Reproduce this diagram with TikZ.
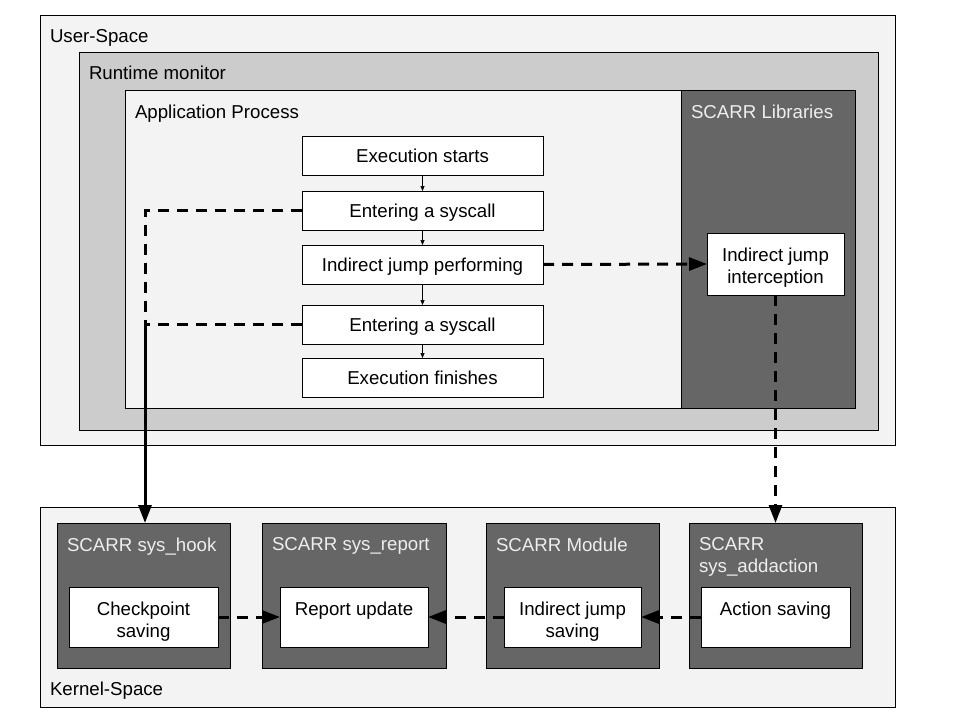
\documentclass[tikz,border=0pt]{standalone}
\usepackage{fontspec}
\setmainfont{Liberation Sans}
\usetikzlibrary{arrows.meta,calc}
\definecolor{lightbg}{HTML}{F3F3F3}
\definecolor{midbg}{HTML}{CCCCCC}
\definecolor{darkbg}{HTML}{666666}
\definecolor{lbl}{HTML}{EEEEEE}
\begin{document}
\begin{tikzpicture}[x=1pt,y=-1pt,
  every node/.style={inner sep=0pt, outer sep=0pt},
  font=\fontsize{18.67}{22}\selectfont,
  region/.style={draw=black, line width=0.8pt, anchor=north west},
  darkbox/.style={region, fill=darkbg, minimum width=173pt, minimum height=145pt},
  flowbox/.style={draw=black, fill=white, line width=0.8pt, minimum width=241pt, minimum height=39pt, text height=13.4pt, text depth=0pt},
  wbox/.style={draw=black, fill=white, line width=0.8pt, minimum height=60pt},
  title/.style={anchor=base west},
  dtitle/.style={anchor=north west, align=left, text=lbl},
  btext/.style={anchor=north, align=center},
  thinarrow/.style={draw=black, line width=0.7pt, -{Triangle[length=5pt,width=4pt]}},
  dashline/.style={draw=black, line width=3pt, dash pattern=on 11pt off 8pt},
  dasharrow/.style={dashline, -{Triangle[length=18pt,width=13pt]}},
  solidarrow/.style={draw=black, line width=3pt, -{Triangle[length=18pt,width=13pt]}}
]
\useasboundingbox[fill=white] (0,0) rectangle (960,720);

% user space
\node[region, fill=lightbg, minimum width=855pt, minimum height=430pt] (us) at (40,15) {};
\node[title] (ust) at (50,42) {User-Space};
\node[region, fill=midbg, minimum width=799pt, minimum height=378pt] (rm) at (79,52) {};
\node[title] (rmt) at (89,79) {Runtime monitor};
\node[region, fill=lightbg, minimum width=556pt, minimum height=318pt] (ap) at (125,90) {};
\node[title] (apt) at (135,118) {Application Process};
\node[region, fill=darkbg, minimum width=174pt, minimum height=318pt] (sl) at (681,90) {};
\node[title, text=lbl] (slt) at (691,118) {SCARR Libraries};

% flow
\node[flowbox] (es) at (422.5,155.5) {Execution starts};
\node[flowbox] (e1) at (422.5,210.5) {Entering a syscall};
\node[flowbox] (ij) at (422.5,264.5) {Indirect jump performing};
\node[flowbox] (e3) at (422.5,324.5) {Entering a syscall};
\node[flowbox] (ef) at (422.5,377.5) {Execution finishes};
\node[draw=black, fill=white, line width=0.8pt, minimum width=137pt, minimum height=62pt] (ic) at (775.5,264) {};
\node[btext] (ict) at (775.5,248.3) {Indirect jump\\interception};

% kernel space
\node[region, fill=lightbg, minimum width=855pt, minimum height=200pt] (ks) at (40,507) {};
\node[title] (kst) at (50,695) {Kernel-Space};

\node[darkbox] (hook) at (57,523) {};
\node[dtitle] (hookt) at (67,537.6) {SCARR sys\_hook};
\node[darkbox, minimum width=184pt] (rep) at (262,523) {};
\node[dtitle] (rept) at (272,537.6) {SCARR sys\_report};
\node[darkbox] (mod) at (486,523) {};
\node[dtitle] (modt) at (496,537.6) {SCARR Module};
\node[darkbox] (add) at (689,523) {};
\node[dtitle] (addt) at (699,537.6) {SCARR\\sys\_addaction};

\node[wbox, minimum width=149pt] (cp) at (143.5,617) {};
\node[btext] (cpt) at (143.5,601.6) {Checkpoint\\saving};
\node[wbox, minimum width=148pt] (ru) at (354,617) {};
\node[btext] (rut) at (354,601.6) {Report update};
\node[wbox, minimum width=137pt] (ijs) at (572.5,617) {};
\node[btext] (ijst) at (572.5,601.6) {Indirect jump\\saving};
\node[wbox, minimum width=149pt] (as) at (775.5,617) {};
\node[btext] (ast) at (775.5,601.6) {Action saving};

% connectors
\draw[thinarrow] (es.south) -- (e1.north);
\draw[thinarrow] (e1.south) -- (ij.north);
\draw[thinarrow] (ij.south) -- (e3.north);
\draw[thinarrow] (e3.south) -- (ef.north);

\coordinate (j) at (145,324.5);
\draw[dashline] (e1.west) -| (j);
\draw[dashline] (e3.west) -- (j);
\draw[solidarrow] (j) -- (j |- hook.north);
\draw[dasharrow] (ij.east) -- (ic.west);
\draw[dasharrow] (ic.south) -- (ic.south |- add.north);
\draw[dasharrow] (cp.east) -- (ru.west);
\draw[dasharrow] (ijs.west) -- (ru.east);
\draw[dasharrow] (as.west) -- (ijs.east);
\end{tikzpicture}
\end{document}
